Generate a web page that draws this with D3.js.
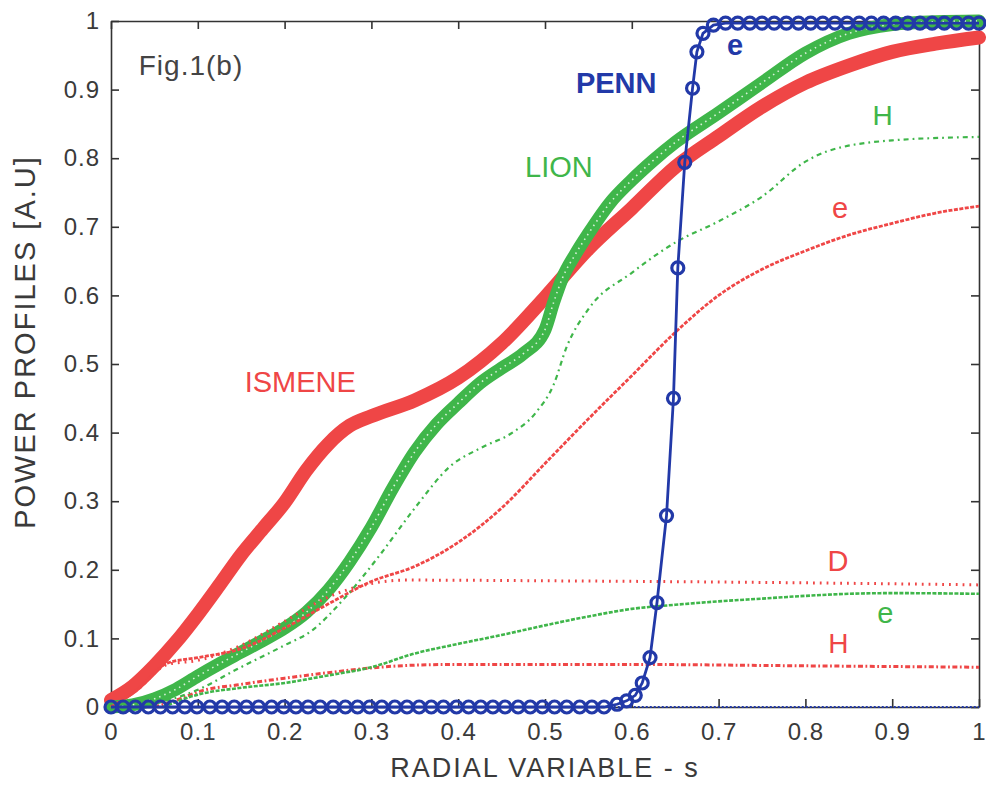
<!DOCTYPE html>
<html>
<head>
<meta charset="utf-8">
<script src="https://cdn.jsdelivr.net/npm/d3@7"></script>
<style>
  body { margin: 0; background: #fff; }
  text { font-family: "Liberation Sans", Arial, Helvetica, sans-serif; }
</style>
</head>
<body>
<div id="chart"></div>
<script>
const MARGIN = { LEFT: 111, RIGHT: 7, TOP: 21, BOTTOM: 83 }
const WIDTH = 986 - MARGIN.LEFT - MARGIN.RIGHT
const HEIGHT = 790 - MARGIN.TOP - MARGIN.BOTTOM

// tick values / labels
const xTicks = [0, 0.1, 0.2, 0.3, 0.4, 0.5, 0.6, 0.7, 0.8, 0.9, 1]
const xTickLabels = ["0", "0.1", "0.2", "0.3", "0.4", "0.5", "0.6", "0.7", "0.8", "0.9", "1"]
const yTicks = [0, 0.1, 0.2, 0.3, 0.4, 0.5, 0.6, 0.7, 0.8, 0.9, 1]
const yTickLabels = ["0", "0.1", "0.2", "0.3", "0.4", "0.5", "0.6", "0.7", "0.8", "0.9", "1"]

// ISMENE total (thick red)
const ismeneS = [0, 0.025, 0.05, 0.075, 0.1, 0.125, 0.15, 0.175, 0.2, 0.225, 0.25, 0.275, 0.3, 0.35, 0.4, 0.45, 0.5, 0.55, 0.6, 0.65, 0.7, 0.75, 0.8, 0.85, 0.9, 0.95, 1]
const ismeneV = [0.01, 0.03, 0.06, 0.095, 0.135, 0.178, 0.222, 0.26, 0.298, 0.345, 0.383, 0.41, 0.424, 0.447, 0.48, 0.53, 0.597, 0.668, 0.727, 0.787, 0.832, 0.875, 0.91, 0.935, 0.955, 0.967, 0.976]

// ISMENE electrons (red dashed)
const ismeneES = [0, 0.03, 0.065, 0.1, 0.15, 0.2, 0.25, 0.3, 0.35, 0.4, 0.45, 0.5, 0.55, 0.6, 0.65, 0.7, 0.75, 0.8, 0.85, 0.9, 0.95, 1]
const ismeneEV = [0, 0.025, 0.064, 0.072, 0.085, 0.115, 0.15, 0.183, 0.205, 0.24, 0.29, 0.355, 0.42, 0.483, 0.546, 0.6, 0.638, 0.665, 0.688, 0.705, 0.72, 0.73]

// ISMENE D (red dotted)
const ismeneDS = [0, 0.03, 0.065, 0.1, 0.15, 0.2, 0.25, 0.3, 0.34, 0.5, 0.8, 1]
const ismeneDV = [0, 0.025, 0.062, 0.068, 0.09, 0.125, 0.16, 0.18, 0.185, 0.184, 0.181, 0.178]

// ISMENE H (red dash-dot)
const ismeneHS = [0.05, 0.08, 0.1, 0.15, 0.2, 0.25, 0.3, 0.35, 0.4, 0.6, 0.8, 1]
const ismeneHV = [0, 0.012, 0.022, 0.033, 0.042, 0.05, 0.057, 0.061, 0.062, 0.062, 0.06, 0.058]

// LION total (thick green)
const lionS = [0, 0.025, 0.05, 0.075, 0.1, 0.125, 0.15, 0.175, 0.2, 0.225, 0.25, 0.275, 0.3, 0.325, 0.35, 0.375, 0.4, 0.425, 0.45, 0.475, 0.5, 0.51, 0.52, 0.535, 0.55, 0.575, 0.6, 0.625, 0.65, 0.7, 0.75, 0.8, 0.85, 0.9, 0.95, 1]
const lionV = [0, 0.003, 0.012, 0.026, 0.045, 0.063, 0.08, 0.097, 0.115, 0.138, 0.17, 0.212, 0.262, 0.32, 0.372, 0.412, 0.443, 0.472, 0.494, 0.515, 0.55, 0.59, 0.625, 0.66, 0.69, 0.735, 0.768, 0.797, 0.823, 0.866, 0.91, 0.953, 0.982, 0.995, 0.999, 1]

// LION H (green dash-dot)
const lionHS = [0.03, 0.06, 0.1, 0.145, 0.2, 0.23, 0.27, 0.31, 0.35, 0.39, 0.43, 0.46, 0.49, 0.51, 0.525, 0.55, 0.6, 0.65, 0.7, 0.75, 0.8, 0.825, 0.9, 1]
const lionHV = [0, 0.008, 0.025, 0.055, 0.09, 0.11, 0.16, 0.222, 0.29, 0.35, 0.38, 0.398, 0.43, 0.47, 0.525, 0.58, 0.633, 0.677, 0.708, 0.744, 0.795, 0.81, 0.826, 0.831]

// LION electrons (green dashed)
const lionES = [0.06, 0.1, 0.15, 0.2, 0.25, 0.3, 0.35, 0.4, 0.45, 0.5, 0.55, 0.6, 0.65, 0.7, 0.75, 0.8, 0.85, 0.9, 1]
const lionEV = [0, 0.018, 0.028, 0.035, 0.046, 0.058, 0.078, 0.092, 0.105, 0.119, 0.132, 0.143, 0.149, 0.154, 0.158, 0.162, 0.165, 0.166, 0.165]

// PENN electrons (blue, circles)
const pennS = [0, 0.014, 0.028, 0.043, 0.057, 0.071, 0.085, 0.099, 0.114, 0.128, 0.142, 0.156, 0.17, 0.185, 0.199, 0.213, 0.227, 0.241, 0.256, 0.27, 0.284, 0.298, 0.312, 0.327, 0.341, 0.355, 0.369, 0.383, 0.398, 0.412, 0.426, 0.44, 0.454, 0.469, 0.483, 0.497, 0.511, 0.525, 0.54, 0.554, 0.568,
  0.583, 0.594, 0.604, 0.612, 0.621, 0.629, 0.64, 0.648, 0.653, 0.661, 0.67, 0.675, 0.682, 0.694,
  0.708, 0.722, 0.736, 0.75, 0.764, 0.778, 0.792, 0.806, 0.82, 0.834, 0.848, 0.862, 0.876, 0.89, 0.904, 0.918, 0.932, 0.946, 0.96, 0.974, 0.988, 1]
const pennV = [0, 0, 0, 0, 0, 0, 0, 0, 0, 0, 0, 0, 0, 0, 0, 0, 0, 0, 0, 0, 0, 0, 0, 0, 0, 0, 0, 0, 0, 0, 0, 0, 0, 0, 0, 0, 0, 0, 0, 0, 0,
  0.004, 0.009, 0.017, 0.035, 0.072, 0.152, 0.279, 0.45, 0.64, 0.794, 0.902, 0.955, 0.982, 0.994,
  0.997, 0.997, 0.997, 0.997, 0.997, 0.997, 0.997, 0.997, 0.997, 0.997, 0.997, 0.997, 0.997, 0.997, 0.997, 0.997, 0.997, 0.997, 0.997, 0.997, 0.997, 0.997]

// PENN ions (blue dotted, flat at zero)
const pennIonS = [0.57, 1]
const pennIonV = [0, 0]

const RED = "#ef4646"
const GREEN = "#3fb64a"
const BLUE = "#2239a8"

const svg = d3.select("#chart").append("svg")
  .attr("width", WIDTH + MARGIN.LEFT + MARGIN.RIGHT)
  .attr("height", HEIGHT + MARGIN.TOP + MARGIN.BOTTOM)

const g = svg.append("g")
  .attr("transform", `translate(${MARGIN.LEFT}, ${MARGIN.TOP})`)

const x = d3.scaleLinear().domain([0, 1]).range([0, WIDTH])
const y = d3.scaleLinear().domain([0, 1]).range([HEIGHT, 0])

const zip = (s, v) => s.map((d, i) => ({ s: d, v: v[i] }))

const line = d3.line()
  .x(d => x(d.s))
  .y(d => y(d.v))
  .curve(d3.curveMonotoneX)

// axes (ticks inside on all sides)
const xAxisCall = d3.axisBottom(x).tickValues(xTicks)
  .tickFormat((d, i) => xTickLabels[i]).tickSizeInner(-8).tickSizeOuter(0).tickPadding(16)
g.append("g").attr("class", "x axis")
  .attr("transform", `translate(0, ${HEIGHT})`)
  .call(xAxisCall)

const yAxisCall = d3.axisLeft(y).tickValues(yTicks)
  .tickFormat((d, i) => yTickLabels[i]).tickSizeInner(-8).tickSizeOuter(0).tickPadding(11)
g.append("g").attr("class", "y axis").call(yAxisCall)

g.append("g").attr("class", "x axis top")
  .call(d3.axisTop(x).tickValues(xTicks).tickFormat("").tickSizeInner(-8).tickSizeOuter(0))
g.append("g").attr("class", "y axis right")
  .attr("transform", `translate(${WIDTH}, 0)`)
  .call(d3.axisRight(y).tickValues(yTicks).tickFormat("").tickSizeInner(-8).tickSizeOuter(0))

g.selectAll(".axis path, .axis line")
  .attr("stroke", "#333")
  .attr("stroke-width", 1.6)
g.selectAll(".axis text")
  .attr("fill", "#3a3a3a")
  .attr("font-size", "24px")
  .attr("letter-spacing", "1px")

// thick ISMENE band
g.append("path")
  .datum(zip(ismeneS, ismeneV))
  .attr("d", line)
  .attr("fill", "none")
  .attr("stroke", RED)
  .attr("stroke-width", 14)
  .attr("stroke-linecap", "round")

// thick LION band of open circles
g.append("path")
  .datum(zip(lionS, lionV))
  .attr("d", line)
  .attr("fill", "none")
  .attr("stroke", GREEN)
  .attr("stroke-width", 13)
  .attr("stroke-linecap", "round")
g.append("path")
  .datum(zip(lionS, lionV))
  .attr("d", line)
  .attr("fill", "none")
  .attr("stroke", "#d8f2da")
  .attr("stroke-width", 1.6)
  .attr("stroke-dasharray", "1.5 4")

// thin component lines
const thin = [
  { s: ismeneES, v: ismeneEV, color: RED, dash: "4 1.5", w: 2.8 },
  { s: ismeneDS, v: ismeneDV, color: RED, dash: "1.8 5", w: 3 },
  { s: ismeneHS, v: ismeneHV, color: RED, dash: "5 2.5 1.8 2.5", w: 3 },
  { s: lionHS, v: lionHV, color: GREEN, dash: "5 4 1.8 4", w: 2.2 },
  { s: lionES, v: lionEV, color: GREEN, dash: "4 1.5", w: 2.6 }
]
thin.forEach(c => {
  g.append("path")
    .datum(zip(c.s, c.v))
    .attr("d", line)
    .attr("fill", "none")
    .attr("stroke", c.color)
    .attr("stroke-width", c.w)
    .attr("stroke-dasharray", c.dash)
})

// PENN
g.append("path")
  .datum(zip(pennIonS, pennIonV))
  .attr("d", line)
  .attr("fill", "none")
  .attr("stroke", BLUE)
  .attr("stroke-width", 2.2)
  .attr("stroke-dasharray", "2 2")

const penn = zip(pennS, pennV)
g.append("path")
  .datum(penn)
  .attr("d", d3.line().x(d => x(d.s)).y(d => y(d.v)))
  .attr("fill", "none")
  .attr("stroke", BLUE)
  .attr("stroke-width", 2.8)

g.selectAll("circle.penn")
  .data(penn)
  .enter().append("circle")
  .attr("class", "penn")
  .attr("cx", d => x(d.s))
  .attr("cy", d => y(d.v))
  .attr("r", 6)
  .attr("fill", "none")
  .attr("stroke", BLUE)
  .attr("stroke-width", 3.2)

// annotations
const labels = [
  { t: "Fig.1(b)", s: 0.032, v: 0.921, c: "#444", anchor: "start", w: "normal", size: 28 },
  { t: "PENN", s: 0.582, v: 0.895, c: BLUE, anchor: "middle", w: "bold", size: 29 },
  { t: "e", s: 0.719, v: 0.95, c: BLUE, anchor: "middle", w: "bold", size: 29 },
  { t: "LION", s: 0.516, v: 0.773, c: GREEN, anchor: "middle", w: "normal", size: 29 },
  { t: "H", s: 0.889, v: 0.848, c: GREEN, anchor: "middle", w: "normal", size: 28 },
  { t: "e", s: 0.84, v: 0.713, c: RED, anchor: "middle", w: "normal", size: 29 },
  { t: "ISMENE", s: 0.218, v: 0.459, c: RED, anchor: "middle", w: "normal", size: 29 },
  { t: "D", s: 0.8376, v: 0.198, c: RED, anchor: "middle", w: "normal", size: 29 },
  { t: "e", s: 0.892, v: 0.122, c: GREEN, anchor: "middle", w: "normal", size: 29 },
  { t: "H", s: 0.838, v: 0.079, c: RED, anchor: "middle", w: "normal", size: 28 }
]
g.selectAll("text.label")
  .data(labels)
  .enter().append("text")
  .attr("class", "label")
  .attr("x", d => x(d.s))
  .attr("y", d => y(d.v))
  .attr("text-anchor", d => d.anchor)
  .attr("font-size", d => d.size + "px")
  .attr("font-weight", d => d.w)
  .attr("letter-spacing", d => d.t === "Fig.1(b)" ? "1px" : "0px")
  .attr("fill", d => d.c)
  .text(d => d.t)

// X label
g.append("text")
  .attr("x", WIDTH / 2)
  .attr("y", HEIGHT + 70)
  .attr("font-size", "27px")
  .attr("letter-spacing", "2px")
  .attr("fill", "#3a3a3a")
  .attr("text-anchor", "middle")
  .text("RADIAL VARIABLE - s")

// Y label
g.append("text")
  .attr("x", -(HEIGHT / 2) + 22)
  .attr("y", -76)
  .attr("font-size", "29px")
  .attr("letter-spacing", "2px")
  .attr("fill", "#3a3a3a")
  .attr("text-anchor", "middle")
  .attr("transform", "rotate(-90)")
  .text("POWER PROFILES [A.U]")
</script>
</body>
</html>
